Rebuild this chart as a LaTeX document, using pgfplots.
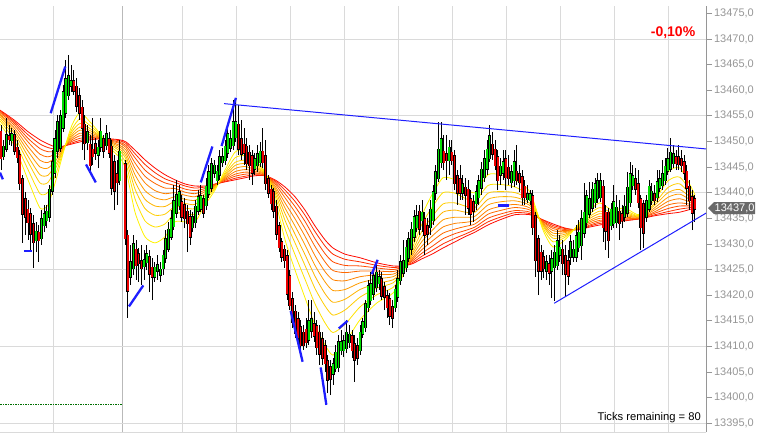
\documentclass[border=0pt]{standalone}
\usepackage{pgfplots}
\pgfplotsset{compat=1.18}
\usepackage{pgfplotstable}
\usepackage{fontspec}
\setmainfont{Liberation Sans}

\definecolor{cgreen}{RGB}{0,220,0}
\definecolor{cred}{RGB}{235,0,0}
\definecolor{tickgray}{RGB}{150,150,150}
\definecolor{gridgray}{RGB}{218,218,218}
\definecolor{sessgray}{RGB}{185,185,185}
\definecolor{boxgray}{RGB}{105,105,105}
\definecolor{tlblue}{RGB}{30,30,255}
\definecolor{dotgreen}{RGB}{0,110,0}
\definecolor{r0}{RGB}{255,10,0}
\definecolor{r1}{RGB}{255,45,0}
\definecolor{r2}{RGB}{255,75,0}
\definecolor{r3}{RGB}{255,105,0}
\definecolor{r4}{RGB}{255,130,0}
\definecolor{r5}{RGB}{255,155,0}
\definecolor{r6}{RGB}{255,180,0}
\definecolor{r7}{RGB}{255,205,0}
\definecolor{r8}{RGB}{255,225,0}
\definecolor{r9}{RGB}{255,242,0}

% up candles: index open high low close
\pgfplotstableread{
i o h l c
1 13447.2 13450.3 13446.4 13448.9
2 13448.7 13454.6 13448.0 13451.1
4 13450.3 13452.6 13449.1 13451.3
13 13430.8 13434.3 13428.4 13432.3
15 13431.2 13436.6 13429.8 13434.7
16 13433.7 13437.6 13432.3 13435.7
17 13434.7 13437.6 13433.1 13436.2
18 13435.3 13441.5 13434.3 13440.5
19 13440.5 13448.3 13439.6 13445.8
20 13443.9 13452.2 13442.9 13450.3
21 13448.3 13455.2 13446.8 13453.6
22 13448.9 13456.1 13447.9 13454.8
23 13452.8 13461.0 13451.8 13459.5
24 13455.7 13465.9 13454.6 13462.0
25 13459.1 13466.9 13458.1 13462.6
26 13461.0 13464.9 13459.6 13461.6
32 13449.9 13453.2 13448.3 13451.7
36 13447.4 13450.3 13444.8 13448.7
37 13449.1 13454.6 13447.9 13451.8
39 13449.3 13453.2 13448.3 13451.3
44 13442.5 13450.3 13441.5 13447.9
48 13423.6 13429.8 13422.0 13426.3
49 13425.3 13431.8 13423.9 13429.8
53 13425.7 13428.8 13423.0 13426.7
54 13426.5 13429.8 13424.9 13427.9
57 13423.7 13426.5 13422.6 13425.3
58 13424.9 13427.9 13423.0 13425.7
59 13424.1 13426.5 13422.6 13424.9
60 13425.3 13428.8 13423.9 13427.6
61 13427.3 13432.7 13426.3 13430.8
62 13429.2 13434.3 13428.4 13432.7
63 13431.5 13436.6 13430.8 13434.7
64 13433.5 13441.5 13432.7 13438.2
65 13436.2 13442.5 13435.1 13439.4
66 13437.6 13441.5 13436.6 13440.0
71 13433.3 13436.2 13432.3 13435.1
72 13434.3 13438.6 13433.1 13437.2
73 13436.6 13440.5 13435.7 13439.0
74 13437.0 13441.5 13436.2 13439.2
76 13437.6 13442.9 13436.6 13441.1
77 13439.9 13445.4 13439.0 13443.9
78 13441.1 13446.8 13440.1 13445.4
79 13444.0 13446.4 13442.9 13445.2
80 13442.5 13445.4 13441.5 13444.0
81 13443.5 13448.3 13442.5 13446.8
82 13446.0 13448.7 13445.0 13446.8
83 13446.4 13450.3 13445.4 13448.9
84 13447.9 13453.2 13446.8 13451.3
85 13448.9 13452.2 13447.9 13450.3
86 13449.3 13458.1 13448.3 13453.6
87 13450.9 13458.5 13449.9 13453.6
94 13444.8 13447.7 13443.5 13446.4
95 13445.4 13449.3 13444.0 13447.4
96 13446.0 13449.9 13445.0 13447.9
114 13411.3 13419.1 13410.3 13414.8
115 13413.2 13419.1 13411.7 13415.2
123 13404.8 13407.7 13402.5 13406.4
124 13405.8 13410.3 13405.0 13408.7
125 13406.0 13412.2 13405.0 13410.7
126 13409.3 13413.2 13408.4 13410.7
127 13409.3 13412.2 13407.9 13410.9
128 13409.7 13415.2 13408.7 13412.6
129 13410.9 13414.2 13409.7 13412.2
133 13409.3 13414.2 13408.4 13412.6
134 13412.6 13415.6 13411.7 13414.6
135 13413.8 13419.1 13412.8 13418.1
136 13417.7 13423.0 13416.7 13421.6
137 13419.1 13424.5 13418.1 13422.0
138 13420.4 13425.3 13419.1 13423.6
139 13421.6 13426.9 13420.6 13424.3
140 13422.4 13424.9 13421.0 13423.4
146 13417.7 13422.0 13416.7 13421.0
147 13419.7 13424.9 13418.7 13423.0
148 13423.0 13427.9 13422.0 13426.3
149 13424.5 13430.8 13423.6 13426.5
150 13425.5 13430.8 13424.5 13429.2
151 13427.3 13432.3 13426.5 13430.8
152 13429.2 13434.3 13427.9 13432.7
153 13431.4 13436.6 13430.4 13435.1
154 13433.3 13437.6 13432.3 13435.3
156 13434.7 13438.6 13432.3 13436.0
159 13433.3 13438.6 13431.8 13436.6
160 13434.7 13441.5 13433.7 13440.0
161 13440.0 13445.4 13438.6 13443.9
162 13442.9 13453.8 13442.1 13448.3
163 13446.0 13453.8 13444.8 13450.3
166 13446.4 13450.3 13443.5 13448.7
171 13440.1 13443.5 13438.6 13441.5
176 13438.0 13441.5 13436.6 13440.0
177 13439.2 13443.5 13437.6 13442.1
178 13441.1 13446.0 13439.6 13444.4
179 13443.1 13448.3 13442.1 13446.4
180 13444.8 13450.3 13443.5 13448.3
181 13446.8 13453.2 13446.0 13450.9
185 13443.5 13446.8 13441.5 13445.0
186 13443.9 13448.3 13442.5 13445.8
189 13442.1 13445.4 13440.9 13443.9
190 13442.5 13448.3 13441.1 13445.8
195 13438.8 13441.5 13438.0 13439.6
196 13438.6 13440.5 13437.6 13439.6
202 13424.9 13427.9 13423.0 13426.3
204 13424.9 13428.8 13419.5 13426.9
205 13425.5 13429.8 13418.9 13428.2
206 13425.9 13432.7 13424.9 13430.4
207 13427.9 13431.8 13426.5 13429.2
211 13427.5 13431.8 13425.9 13430.2
212 13427.5 13430.8 13426.5 13428.8
213 13427.5 13433.7 13426.5 13431.4
214 13429.4 13434.7 13428.4 13432.1
215 13429.8 13436.6 13426.9 13434.7
216 13432.3 13441.9 13431.2 13436.0
217 13434.3 13440.5 13433.1 13439.2
218 13436.0 13442.1 13435.1 13438.6
219 13437.2 13442.1 13436.2 13440.5
220 13438.2 13442.9 13437.0 13441.5
221 13439.0 13443.9 13438.0 13442.1
222 13439.2 13443.9 13438.2 13442.1
226 13433.7 13438.0 13432.7 13436.6
227 13434.1 13441.5 13433.1 13438.0
228 13434.3 13439.6 13433.1 13437.0
231 13435.3 13439.6 13434.3 13437.2
232 13436.2 13444.0 13435.3 13440.9
233 13438.2 13446.0 13437.2 13443.5
234 13441.5 13445.4 13440.5 13443.1
239 13435.3 13439.6 13434.3 13438.2
240 13437.0 13442.5 13436.2 13441.1
241 13438.6 13441.9 13437.6 13440.1
243 13439.2 13444.4 13438.2 13441.9
244 13441.1 13444.4 13440.1 13442.5
245 13441.5 13446.4 13440.5 13443.5
246 13442.5 13446.8 13441.5 13445.0
247 13444.4 13448.7 13443.5 13446.4
248 13444.8 13450.7 13444.0 13447.7
249 13445.8 13449.3 13444.8 13447.4
}\gtab

% down candles: index open high low close
\pgfplotstableread{
i o h l c
0 13451.8 13453.2 13444.4 13446.8
3 13450.9 13453.2 13449.3 13450.5
5 13451.1 13452.2 13447.4 13448.3
6 13448.7 13450.3 13445.8 13447.0
7 13447.2 13448.3 13440.5 13441.9
8 13442.5 13443.5 13430.2 13436.0
9 13438.6 13440.1 13431.8 13435.3
10 13436.6 13438.6 13430.8 13434.3
11 13435.7 13437.0 13428.8 13432.1
12 13433.7 13435.7 13425.3 13430.4
14 13432.1 13433.7 13426.5 13430.8
27 13461.6 13463.9 13459.1 13460.0
28 13460.6 13462.4 13455.8 13457.1
29 13458.7 13460.4 13454.2 13455.6
30 13456.5 13458.1 13448.3 13452.8
31 13453.2 13455.2 13446.4 13449.7
33 13449.3 13451.3 13444.0 13445.4
34 13448.3 13454.6 13445.4 13447.2
35 13449.3 13450.7 13446.4 13447.8
38 13450.3 13451.3 13446.8 13448.3
40 13450.3 13451.8 13446.8 13447.9
41 13448.9 13450.3 13439.6 13441.1
42 13445.8 13447.4 13436.6 13440.5
43 13443.5 13446.4 13437.6 13442.1
46 13445.4 13446.4 13429.8 13431.2
47 13431.5 13432.7 13415.6 13421.0
50 13428.8 13430.8 13423.0 13425.9
51 13427.9 13429.2 13422.6 13426.3
52 13426.5 13429.8 13422.0 13425.3
55 13427.3 13428.8 13420.6 13424.3
56 13425.3 13427.3 13419.1 13423.6
67 13438.0 13439.6 13434.3 13435.3
68 13437.4 13439.0 13433.1 13435.1
69 13436.2 13437.6 13428.4 13434.1
70 13435.1 13436.6 13429.8 13431.4
75 13438.6 13439.6 13435.1 13436.2
88 13453.2 13457.1 13447.4 13448.7
89 13450.3 13454.2 13446.4 13447.7
90 13449.3 13452.6 13445.4 13447.9
91 13448.9 13450.7 13444.4 13445.8
92 13447.7 13449.3 13442.5 13445.4
93 13447.0 13448.3 13441.5 13444.0
97 13447.9 13452.6 13444.8 13446.0
98 13447.0 13450.3 13440.5 13441.9
99 13442.5 13443.5 13439.0 13440.0
100 13440.5 13441.5 13436.6 13438.0
101 13440.0 13440.9 13435.1 13436.6
102 13437.2 13438.6 13430.8 13432.1
103 13433.3 13434.3 13428.4 13429.4
104 13430.2 13431.2 13426.5 13427.5
105 13428.8 13429.8 13425.3 13426.9
106 13427.5 13428.8 13419.1 13420.4
107 13423.6 13424.9 13417.1 13418.1
108 13419.1 13420.6 13413.6 13414.8
109 13416.7 13418.1 13411.7 13412.8
110 13415.2 13416.7 13410.3 13411.7
111 13413.6 13415.2 13408.4 13410.3
112 13412.6 13414.2 13409.3 13410.3
113 13413.2 13415.6 13409.7 13410.9
116 13414.2 13416.7 13410.9 13412.2
117 13413.8 13415.2 13408.4 13409.9
118 13412.6 13414.2 13406.4 13408.7
119 13411.3 13412.8 13406.4 13407.9
120 13409.9 13411.3 13405.0 13406.8
121 13407.0 13408.4 13400.9 13403.5
122 13405.8 13407.4 13400.5 13403.8
130 13411.9 13413.2 13407.7 13409.3
131 13410.3 13412.2 13403.1 13407.4
132 13409.9 13411.7 13406.4 13407.9
141 13423.0 13424.5 13419.1 13420.0
142 13421.4 13422.6 13417.1 13419.7
143 13419.7 13421.0 13415.6 13417.7
144 13419.1 13420.4 13414.2 13416.1
145 13417.5 13419.1 13413.6 13415.7
155 13436.2 13437.6 13431.8 13433.1
157 13434.7 13436.2 13427.9 13431.8
158 13433.3 13435.1 13429.8 13432.1
164 13447.9 13451.3 13444.4 13446.0
165 13447.4 13451.3 13442.5 13446.4
167 13447.7 13450.3 13445.4 13446.4
168 13447.0 13448.3 13440.5 13441.9
169 13443.1 13444.4 13437.6 13440.1
170 13442.5 13445.4 13438.6 13440.1
172 13440.9 13442.9 13435.7 13439.6
173 13440.5 13442.5 13435.7 13437.2
174 13438.6 13440.5 13433.7 13436.0
175 13438.0 13439.6 13434.3 13436.6
182 13449.3 13451.8 13446.4 13447.7
183 13448.3 13450.3 13444.4 13445.4
184 13446.8 13448.3 13440.5 13442.5
187 13446.4 13448.3 13440.5 13443.1
188 13444.8 13447.4 13441.5 13442.9
191 13444.0 13449.3 13441.5 13442.5
192 13443.5 13445.4 13440.1 13442.1
193 13442.9 13444.4 13437.6 13439.2
194 13441.1 13442.5 13437.6 13439.2
197 13439.2 13440.5 13431.8 13433.3
198 13435.3 13436.2 13423.6 13426.9
199 13430.8 13431.8 13420.0 13424.9
200 13428.2 13429.8 13423.0 13424.9
201 13427.3 13428.8 13423.4 13425.3
203 13425.9 13427.9 13422.0 13424.5
208 13428.8 13430.8 13423.9 13426.3
209 13427.5 13429.8 13419.7 13424.3
210 13426.5 13428.8 13422.0 13423.9
223 13441.1 13442.5 13430.4 13433.3
224 13436.0 13437.6 13428.8 13432.7
225 13436.0 13437.0 13427.3 13430.8
229 13436.2 13438.6 13430.8 13434.1
230 13435.7 13437.6 13433.1 13434.7
235 13442.5 13444.8 13439.6 13440.9
236 13441.5 13444.4 13437.0 13438.2
237 13438.6 13439.6 13428.8 13433.3
238 13437.6 13438.6 13429.2 13432.3
242 13439.6 13441.5 13437.6 13438.6
250 13446.8 13448.3 13444.4 13445.8
251 13446.8 13449.3 13444.4 13445.6
252 13446.4 13448.3 13444.0 13445.4
253 13445.8 13447.4 13442.5 13443.9
254 13444.0 13445.4 13437.6 13441.1
255 13441.1 13442.5 13436.6 13438.6
256 13439.0 13440.5 13432.7 13436.2
257 13438.6 13439.6 13434.3 13437.0
}\rtab

% moving-average ribbon (k0 slowest/red ... k9 fastest/yellow)
\pgfplotstableread{
x k0 k1 k2 k3 k4 k5 k6 k7 k8 k9
-0.37 13456.1 13456.0 13455.8 13455.6 13455.3 13455.1 13454.8 13454.4 13454.0 13453.4
4.81 13454.2 13453.9 13453.6 13453.2 13452.7 13452.2 13451.7 13451.1 13450.3 13449.3
10.0 13451.9 13451.3 13450.6 13449.9 13449.0 13448.1 13447.1 13446.0 13444.5 13442.5
14.44 13450.3 13449.5 13448.6 13447.5 13446.3 13445.0 13443.5 13441.9 13439.8 13437.0
17.41 13449.5 13448.8 13448.0 13447.0 13445.9 13444.8 13443.4 13442.0 13440.1 13437.6
20.37 13448.9 13448.5 13448.1 13447.6 13447.0 13446.3 13445.6 13444.9 13443.8 13442.5
23.33 13449.1 13449.1 13449.0 13449.0 13448.9 13448.8 13448.7 13448.6 13448.5 13448.3
26.30 13449.5 13449.7 13450.0 13450.3 13450.6 13451.0 13451.4 13451.9 13452.4 13453.2
29.26 13449.9 13450.2 13450.6 13451.1 13451.6 13452.2 13452.8 13453.5 13454.4 13455.6
32.96 13450.3 13450.5 13450.8 13451.0 13451.3 13451.7 13452.1 13452.5 13453.1 13453.8
36.67 13450.5 13450.5 13450.6 13450.7 13450.8 13450.9 13451.0 13451.1 13451.3 13451.5
40.37 13450.5 13450.4 13450.3 13450.1 13450.0 13449.8 13449.6 13449.4 13449.1 13448.7
44.07 13450.3 13450.1 13449.8 13449.6 13449.2 13448.9 13448.5 13448.1 13447.5 13446.8
46.30 13449.9 13449.6 13449.2 13448.8 13448.3 13447.7 13447.1 13446.5 13445.6 13444.4
49.63 13448.3 13447.6 13446.8 13445.8 13444.7 13443.5 13442.2 13440.7 13438.8 13436.2
53.33 13446.4 13445.5 13444.4 13443.2 13441.9 13440.4 13438.7 13436.9 13434.5 13431.4
57.04 13444.8 13443.9 13442.9 13441.8 13440.4 13439.0 13437.4 13435.6 13433.3 13430.2
60.74 13443.5 13442.7 13441.9 13440.9 13439.8 13438.6 13437.3 13435.8 13433.9 13431.4
64.44 13442.5 13442.0 13441.4 13440.8 13440.0 13439.2 13438.3 13437.3 13436.0 13434.3
68.15 13441.7 13441.3 13440.7 13440.1 13439.5 13438.7 13437.9 13437.0 13435.9 13434.3
71.85 13441.3 13440.9 13440.4 13439.8 13439.2 13438.5 13437.7 13436.9 13435.8 13434.3
75.56 13441.3 13441.1 13440.8 13440.5 13440.2 13439.8 13439.4 13439.0 13438.4 13437.6
79.26 13441.7 13441.6 13441.6 13441.5 13441.4 13441.2 13441.1 13441.0 13440.8 13440.5
82.96 13442.1 13442.2 13442.4 13442.6 13442.8 13443.0 13443.3 13443.6 13443.9 13444.4
86.67 13442.5 13442.8 13443.2 13443.6 13444.1 13444.7 13445.3 13445.9 13446.8 13447.9
90.37 13442.9 13443.2 13443.6 13444.0 13444.5 13445.1 13445.7 13446.3 13447.2 13448.3
94.07 13443.3 13443.5 13443.7 13443.9 13444.2 13444.5 13444.9 13445.2 13445.7 13446.4
97.78 13443.3 13443.3 13443.4 13443.4 13443.5 13443.6 13443.7 13443.8 13443.9 13444.0
101.48 13442.5 13442.3 13442.0 13441.7 13441.3 13440.9 13440.5 13440.0 13439.4 13438.6
105.19 13441.1 13440.5 13439.8 13439.0 13438.0 13437.0 13435.9 13434.6 13433.0 13430.8
108.89 13439.2 13438.3 13437.3 13436.2 13434.9 13433.5 13431.9 13430.2 13427.9 13424.9
112.59 13436.6 13435.6 13434.4 13433.0 13431.5 13429.8 13427.9 13425.8 13423.1 13419.5
116.30 13433.5 13432.4 13431.0 13429.5 13427.7 13425.8 13423.7 13421.3 13418.3 13414.2
120.0 13430.8 13429.6 13428.1 13426.5 13424.6 13422.6 13420.3 13417.9 13414.6 13410.3
122.96 13429.2 13428.0 13426.5 13424.8 13423.0 13420.9 13418.6 13416.1 13412.7 13408.3
127.41 13428.0 13427.0 13425.8 13424.4 13422.8 13421.1 13419.2 13417.1 13414.3 13410.7
132.96 13427.3 13426.5 13425.7 13424.7 13423.6 13422.4 13421.1 13419.6 13417.7 13415.2
139.26 13426.3 13425.8 13425.3 13424.7 13424.0 13423.2 13422.3 13421.4 13420.1 13418.5
145.19 13425.7 13425.4 13425.0 13424.6 13424.1 13423.6 13423.0 13422.4 13421.5 13420.4
148.89 13425.7 13425.6 13425.5 13425.3 13425.2 13425.0 13424.8 13424.6 13424.3 13423.9
152.22 13426.1 13426.3 13426.6 13426.9 13427.2 13427.6 13428.0 13428.4 13429.0 13429.8
155.93 13427.1 13427.6 13428.2 13428.9 13429.6 13430.5 13431.4 13432.5 13433.9 13435.6
159.63 13428.0 13428.7 13429.5 13430.5 13431.5 13432.6 13433.9 13435.3 13437.1 13439.6
163.70 13429.2 13430.0 13431.0 13432.1 13433.3 13434.7 13436.2 13437.8 13440.0 13442.9
168.15 13430.4 13431.1 13432.0 13432.9 13434.0 13435.2 13436.6 13438.0 13439.9 13442.5
171.85 13431.4 13431.9 13432.6 13433.4 13434.2 13435.2 13436.2 13437.4 13438.9 13440.9
175.56 13432.3 13432.8 13433.3 13433.9 13434.6 13435.4 13436.2 13437.1 13438.4 13440.0
180.37 13433.7 13434.3 13435.0 13435.8 13436.6 13437.6 13438.7 13439.9 13441.4 13443.5
184.81 13434.7 13435.2 13435.8 13436.5 13437.3 13438.2 13439.2 13440.2 13441.6 13443.5
190.37 13435.7 13436.1 13436.5 13437.1 13437.7 13438.4 13439.1 13440.0 13441.1 13442.5
195.93 13435.7 13435.9 13436.2 13436.6 13437.0 13437.5 13437.9 13438.5 13439.2 13440.1
200.74 13434.7 13434.6 13434.4 13434.3 13434.1 13433.9 13433.7 13433.5 13433.1 13432.7
204.44 13433.9 13433.6 13433.3 13433.0 13432.6 13432.1 13431.6 13431.1 13430.4 13429.4
208.89 13433.1 13433.0 13432.8 13432.6 13432.4 13432.2 13431.9 13431.6 13431.3 13430.8
213.33 13432.7 13432.8 13432.8 13432.9 13433.0 13433.0 13433.1 13433.2 13433.3 13433.5
218.15 13433.3 13433.5 13433.7 13434.0 13434.3 13434.6 13435.0 13435.4 13435.9 13436.6
221.85 13433.7 13434.0 13434.3 13434.6 13435.0 13435.4 13435.9 13436.4 13437.1 13438.0
226.30 13434.1 13434.2 13434.4 13434.6 13434.9 13435.1 13435.4 13435.7 13436.1 13436.6
231.11 13434.5 13434.6 13434.8 13435.0 13435.2 13435.5 13435.8 13436.1 13436.5 13437.0
236.67 13434.9 13434.9 13435.0 13435.0 13435.1 13435.2 13435.3 13435.4 13435.5 13435.7
242.22 13435.5 13435.7 13436.0 13436.3 13436.7 13437.1 13437.6 13438.0 13438.7 13439.6
247.04 13435.9 13436.3 13436.9 13437.6 13438.3 13439.1 13440.0 13441.0 13442.3 13444.0
251.48 13436.2 13436.8 13437.4 13438.0 13438.8 13439.7 13440.6 13441.7 13443.0 13444.8
257.04 13437.0 13437.2 13437.4 13437.6 13437.8 13438.0 13438.3 13438.6 13439.0 13439.6
}\ribbon

\pgfplotsset{
  candle/.style n args={3}{draw=none, mark=none, forget plot,
    error bars/.cd, y dir=plus, y explicit, error mark=none,
    error bar style={draw=#1, solid, line width=#2, line cap=#3}},
}

\begin{document}
\begin{tikzpicture}
\begin{axis}[
  name=ax,
  at={(0,0)}, anchor=south west,
  scale only axis, width=706pt, height=426pt,
  xmin=-0.37, xmax=261.11,
  ymin=13393.3, ymax=13476.42,
  clip=false,
  axis x line*=bottom, axis y line*=right,
  axis line style={-, draw=tickgray, line width=0.8pt},
  x axis line style={draw=gridgray},
  tick align=outside,
  major tick length=6pt,
  scaled y ticks=false,
  ytick={13395,13400,13405,13410,13415,13420,13425,13430,13435,13440,13445,13450,13455,13460,13465,13470,13475},
  y tick style={draw=tickgray, line width=0.8pt},
  yticklabel style={font=\fontsize{11}{13}\selectfont, text=tickgray, xshift=-1.5pt,
     /pgf/number format/.cd, fixed, fixed zerofill, precision=1, use comma, 1000 sep={}, assume math mode=true},
  xtick={19.26,67.04,87.04,107.04,127.04,147.04,167.04,187.04,207.04,227.04,247.04},
  xticklabels={},
  x tick style={draw=none},
  xmajorgrids=true,
  grid style={draw=gridgray, line width=0.8pt},
  extra y ticks={13395,13410,13425,13440,13455,13470},
  extra y tick labels={},
  extra y tick style={grid=major, major tick length=0pt},
  extra x ticks={45},
  extra x tick labels={},
  extra x tick style={grid=major, major grid style={draw=sessgray, line width=1.6pt}, major tick length=0pt},
]

% dotted level line
\addplot[draw=dotgreen, line width=0.7pt, dash pattern=on 1.5pt off 1pt] coordinates {(-0.37,13398.6) (45,13398.6)};

% moving-average ribbon
\addplot[r0, line width=0.8pt, smooth, tension=0.4] table[x=x,y=k0]{\ribbon};
\addplot[r1, line width=0.8pt, smooth, tension=0.4] table[x=x,y=k1]{\ribbon};
\addplot[r2, line width=0.8pt, smooth, tension=0.4] table[x=x,y=k2]{\ribbon};
\addplot[r3, line width=0.8pt, smooth, tension=0.4] table[x=x,y=k3]{\ribbon};
\addplot[r4, line width=0.8pt, smooth, tension=0.4] table[x=x,y=k4]{\ribbon};
\addplot[r5, line width=0.8pt, smooth, tension=0.4] table[x=x,y=k5]{\ribbon};
\addplot[r6, line width=0.8pt, smooth, tension=0.4] table[x=x,y=k6]{\ribbon};
\addplot[r7, line width=0.8pt, smooth, tension=0.4] table[x=x,y=k7]{\ribbon};
\addplot[r8, line width=0.8pt, smooth, tension=0.4] table[x=x,y=k8]{\ribbon};
\addplot[r9, line width=0.8pt, smooth, tension=0.4] table[x=x,y=k9]{\ribbon};

% wicks
\addplot[candle={black}{0.9pt}{butt}] table[x=i, y=l, y error expr=\thisrow{h}-\thisrow{l}]{\gtab};
\addplot[candle={black}{0.9pt}{butt}] table[x=i, y=l, y error expr=\thisrow{h}-\thisrow{l}]{\rtab};

% bodies: outline then fill
\addplot[candle={black}{3.0pt}{rect}] table[x=i, y=o, y error expr=\thisrow{c}-\thisrow{o}]{\gtab};
\addplot[candle={cgreen}{1.5pt}{rect}] table[x=i, y=o, y error expr=\thisrow{c}-\thisrow{o}]{\gtab};
\addplot[candle={black}{3.0pt}{rect}] table[x=i, y=c, y error expr=\thisrow{o}-\thisrow{c}]{\rtab};
\addplot[candle={cred}{1.5pt}{rect}] table[x=i, y=c, y error expr=\thisrow{o}-\thisrow{c}]{\rtab};

% trend lines
\addplot[tlblue, line width=1pt] coordinates {(82.6,13457.37) (261.11,13448.53)};
\addplot[tlblue, line width=1pt] coordinates {(204.9,13418.42) (261.11,13436.0)};

% zigzag segments
\addplot[tlblue, line width=2.3pt] coordinates {(-0.37,13443.9) (0.7,13442.6)};
\addplot[tlblue, line width=2.3pt] coordinates {(18.4,13455.5) (23.8,13464.6)};
\addplot[tlblue, line width=2.3pt] coordinates {(31.5,13445.5) (35.1,13442.0)};
\addplot[tlblue, line width=2.3pt] coordinates {(8.5,13428.6) (11.5,13428.6)};
\addplot[tlblue, line width=2.3pt] coordinates {(47.4,13417.8) (52.7,13421.9)};
\addplot[tlblue, line width=2.3pt] coordinates {(74.0,13442.0) (78.3,13449.0)};
\addplot[tlblue, line width=2.3pt] coordinates {(81.7,13449.1) (87.0,13458.5)};
\addplot[tlblue, line width=2.3pt] coordinates {(107.3,13416.9) (111.7,13407.0)};
\addplot[tlblue, line width=2.3pt] coordinates {(118.4,13405.9) (120.5,13398.6)};
\addplot[tlblue, line width=2.3pt] coordinates {(125.1,13413.5) (128.4,13415.0)};
\addplot[tlblue, line width=2.3pt] coordinates {(137.3,13424.1) (139.5,13426.9)};
\addplot[tlblue, line width=2.3pt] coordinates {(184.0,13437.5) (188.1,13437.5)};

% texts
\node[text=red, font=\bfseries\fontsize{14}{16}\selectfont] at (axis cs:248.9,13471.2) {-0,10\%};
\node[anchor=base east, font=\fontsize{11.2}{13}\selectfont, inner sep=0pt] at (axis cs:259.26,13395.46) {Ticks remaining = 80};

% last price marker
\fill[boxgray] ([xshift=2pt]axis cs:261.11,13437) -- ++(6pt,6pt) -- ++(41pt,0pt) -- ++(0pt,-12pt) -- ++(-41pt,0pt) -- cycle;
\node[text=white, anchor=west, inner sep=0pt, font=\fontsize{11}{13}\selectfont] at ([xshift=8.5pt]axis cs:261.11,13437) {13437,0};
\end{axis}
\pgfresetboundingbox
\path[use as bounding box] ([yshift=-2pt]ax.south west) rectangle ([xshift=63pt,yshift=6pt]ax.north east);
\end{tikzpicture}
\end{document}
